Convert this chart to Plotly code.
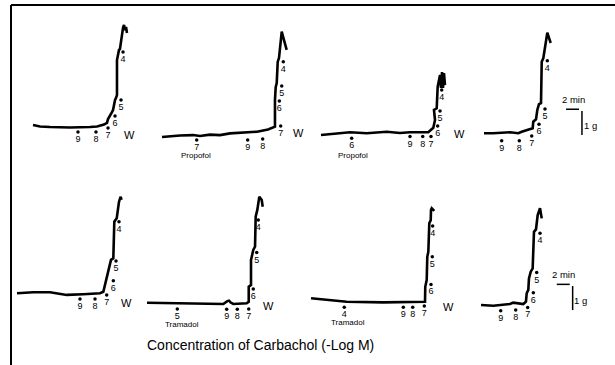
import plotly.graph_objects as go

# ---------------- data: isometric tension recordings (time in min, tension in g) ----------------
# Top row: control, Propofol 10^-7 M, Propofol 10^-6 M, control
p1_t = [0, 1.08, 2.62, 5.69, 8.77, 9.85, 10.92, 11.38, 11.54, 11.85, 12.15, 12.31, 12.46, 12.62, 12.77, 12.92, 12.92, 13.08, 13.23, 13.38, 13.54, 13.69, 13.85, 14.0, 14.15, 14.31, 14.46]
p1_g = [0.08, 0.02, 0, -0.02, 0, 0.02, 0.10, 0.17, 0.33, 0.46, 0.62, 0.71, 0.96, 1.13, 1.21, 1.33, 2.79, 3.08, 3.21, 3.25, 3.63, 3.92, 4.13, 4.25, 4.04, 4.17, 3.92]
p1_dose_t = [6.92, 9.69, 11.54, 12.62, 13.54, 13.85]
p1_dose_g = [-0.21, -0.21, -0.04, 0.46, 1.13, 3.13]
p1_dose_lbl = ["9", "8", "7", "6", "5", "4"]

p2_t = [0, 1.23, 2.77, 4.77, 5.85, 7.38, 8.92, 10.46, 12.0, 14.62, 16.31, 17.08, 17.38, 17.38, 17.49, 17.65, 17.80, 18.0, 18.23, 18.42, 18.77, 19.18]
p2_g = [0, 0.04, 0.06, 0.08, 0.04, 0.10, 0.08, 0.15, 0.18, 0.22, 0.31, 0.38, 0.43, 1.54, 2.08, 2.25, 3.13, 3.29, 3.83, 4.39, 4.04, 3.63]
p2_dose_t = [5.34, 13.18, 15.49, 18.26, 18.05, 18.42, 18.66]
p2_dose_g = [-0.13, -0.13, -0.08, 0.46, 1.5, 2.13, 3.14]
p2_dose_lbl = ["7", "9", "8", "7", "6", "5", "4"]

p3_t = [0, 2.15, 4.46, 7.03, 10.11, 12.15, 13.69, 16.51, 16.88, 17.28, 17.54, 17.38, 17.8, 17.95, 18.31, 18.46, 18.62, 18.77, 18.92, 19.08, 18.92, 18.77]
p3_g = [-0.08, -0.02, 0.03, -0.01, 0.05, 0, 0.03, 0.03, 0.13, 0.22, 0.54, 0.96, 1.03, 1.93, 2.42, 1.88, 2.54, 1.88, 2.5, 2.0, 2.38, 2.1]
p3_dose_t = [4.72, 13.69, 15.65, 16.92, 17.95, 18.31, 18.57]
p3_dose_g = [-0.22, -0.15, -0.15, -0.15, 0.29, 0.92, 1.79]
p3_dose_lbl = ["6", "9", "8", "7", "6", "5", "4"]

p4_t = [0, 1.38, 4.0, 5.28, 5.8, 7.08, 7.49, 7.58, 8.0, 8.2, 8.46, 8.77, 8.88, 9.12, 9.54, 9.74, 10.0, 10.26]
p4_g = [-0.01, -0.01, 0.03, -0.01, 0.05, 0.15, 0.2, 0.47, 0.57, 0.96, 1.2, 1.24, 2.97, 3.11, 3.88, 4.18, 3.96, 3.75]
p4_dose_t = [2.72, 5.43, 7.34, 8.46, 9.38, 9.74]
p4_dose_g = [-0.32, -0.32, -0.13, 0.36, 1.0, 3.01]
p4_dose_lbl = ["9", "8", "7", "6", "5", "4"]

# Bottom row: control, Tramadol 10^-5 M, Tramadol 10^-4 M, control
p5_t = [0, 2.51, 5.08, 6.62, 7.65, 10.2, 12.77, 13.28, 13.69, 13.89, 14.2, 14.46, 14.82, 14.97, 15.34, 15.69, 15.95, 16.08]
p5_g = [-0.01, 0.03, 0.03, -0.05, -0.08, -0.05, -0.01, 0.05, 0.54, 0.64, 1.1, 1.38, 1.45, 2.97, 3.11, 3.8, 4.01, 3.88]
p5_dose_t = [9.69, 12.0, 13.8, 14.82, 15.23, 15.69]
p5_dose_g = [-0.25, -0.25, -0.08, 0.51, 1.33, 2.97]
p5_dose_lbl = ["9", "8", "7", "6", "5", "4"]

p6_t = [0, 3.54, 6.62, 11.74, 12.35, 12.62, 12.88, 13.28, 15.34, 15.65, 15.65, 16.0, 16.0, 16.35, 16.62, 16.72, 16.97, 17.28, 17.65, 17.8]
p6_g = [0.01, 0, -0.01, -0.04, 0.08, 0.1, 0.02, -0.04, -0.01, 0.05, 0.68, 0.75, 1.79, 2.21, 2.35, 3.6, 3.88, 4.43, 4.29, 4.01]
p6_dose_t = [4.66, 12.26, 13.89, 15.65, 16.35, 16.88, 17.12]
p6_dose_g = [-0.25, -0.26, -0.26, -0.25, 0.58, 2.1, 3.46]
p6_dose_lbl = ["5", "9", "8", "7", "6", "5", "4"]

p7_t = [0, 1.38, 5.49, 11.12, 15.74, 17.54, 17.58, 17.8, 17.89, 18.05, 18.2, 18.42, 18.46, 18.57, 18.97]
p7_g = [0.07, 0.04, -0.07, -0.1, -0.1, -0.07, 0.55, 0.83, 1.8, 2.01, 3.2, 3.33, 3.75, 3.82, 3.71]
p7_dose_t = [5.12, 14.2, 15.65, 17.43, 18.46, 18.66, 18.72]
p7_dose_g = [-0.3, -0.3, -0.3, -0.25, 0.65, 1.8, 3.08]
p7_dose_lbl = ["4", "9", "8", "7", "6", "5", "4"]

p8_t = [0, 1.89, 4.46, 4.97, 6.51, 6.92, 7.03, 7.28, 7.38, 7.65, 7.95, 8.15, 8.46, 8.72, 9.08, 9.34]
p8_g = [0, -0.03, 0.04, 0.1, 0.04, 0.14, 0.49, 0.63, 1.11, 1.39, 1.53, 3.05, 3.15, 3.75, 4.03, 3.61]
p8_dose_t = [3.03, 5.34, 7.18, 8.05, 8.57, 9.08]
p8_dose_g = [-0.24, -0.21, -0.1, 0.51, 1.35, 2.99]
p8_dose_lbl = ["9", "8", "7", "6", "5", "4"]

# wash-out marks "W" (panel index, t, g)
wash_panel = [1, 2, 3, 5, 6, 7]
wash_t = [14.92, 20.97, 21.38, 16.77, 18.66, 21.12]
wash_g = [-0.33, 0.17, -0.05, -0.4, -0.11, -0.3]

# drug labels (panel index, t, g, text)
drug_panel = [2, 3, 6, 7]
drug_t = [5.23, 4.92, 5.38, 5.74]
drug_g = [-0.75, -0.89, -0.85, -0.9]
drug_lbl = ["Propofol", "Propofol", "Tramadol", "Tramadol"]

# calibration bars (panel index, start t, start g) : 2 min and 1 g
scale_panel = [4, 8]
scale_t0 = [12.62, 11.65]
scale_g0 = [0.99, 0.86]
scale_min = 2
scale_gram = 1

xlabel = "Concentration of Carbachol (-Log M)"

# ---------------- layout (pixels) ----------------
W, H = 615, 365
PX_PER_MIN = 6.5
PX_PER_G = 24
panel_origin = [(33, 127), (162, 137), (321, 133), (484, 133),
                (17, 293), (147, 303), (311, 300), (481, 305)]

panels = [
    (p1_t, p1_g, p1_dose_t, p1_dose_g, p1_dose_lbl),
    (p2_t, p2_g, p2_dose_t, p2_dose_g, p2_dose_lbl),
    (p3_t, p3_g, p3_dose_t, p3_dose_g, p3_dose_lbl),
    (p4_t, p4_g, p4_dose_t, p4_dose_g, p4_dose_lbl),
    (p5_t, p5_g, p5_dose_t, p5_dose_g, p5_dose_lbl),
    (p6_t, p6_g, p6_dose_t, p6_dose_g, p6_dose_lbl),
    (p7_t, p7_g, p7_dose_t, p7_dose_g, p7_dose_lbl),
    (p8_t, p8_g, p8_dose_t, p8_dose_g, p8_dose_lbl),
]

FONT = "Liberation Sans, Arial, sans-serif"
fig = go.Figure()
layout = dict(
    width=W, height=H, margin=dict(l=0, r=0, t=0, b=0),
    paper_bgcolor="white", plot_bgcolor="white", showlegend=False,
    font=dict(family=FONT, color="black"),
)

def ax_names(i):
    return ("x" if i == 1 else f"x{i}"), ("y" if i == 1 else f"y{i}")

for i, (t, g, dt, dg, dl) in enumerate(panels, start=1):
    xr, yr = ax_names(i)
    x0, y0 = panel_origin[i - 1]
    xa = dict(range=[-x0 / PX_PER_MIN, (W - x0) / PX_PER_MIN], domain=[0, 1],
              visible=False, fixedrange=True, anchor=yr)
    ya = dict(range=[-(H - y0) / PX_PER_G, y0 / PX_PER_G], domain=[0, 1],
              visible=False, fixedrange=True, anchor=xr)
    if i > 1:
        xa["overlaying"] = "x"
        ya["overlaying"] = "y"
    layout["xaxis" if i == 1 else f"xaxis{i}"] = xa
    layout["yaxis" if i == 1 else f"yaxis{i}"] = ya
    fig.add_trace(go.Scatter(x=t, y=g, mode="lines", xaxis=xr, yaxis=yr,
                             line=dict(color="black", width=2.6), hoverinfo="skip"))
    fig.add_trace(go.Scatter(x=dt, y=dg, mode="markers+text", text=dl,
                             textposition="bottom center", xaxis=xr, yaxis=yr,
                             marker=dict(color="black", size=3.5),
                             textfont=dict(size=9, family=FONT, color="black"),
                             hoverinfo="skip"))

annotations = []
for p, t, g in zip(wash_panel, wash_t, wash_g):
    xr, yr = ax_names(p)
    annotations.append(dict(x=t, y=g, xref=xr, yref=yr, text="W", showarrow=False,
                            xanchor="center", yanchor="middle",
                            font=dict(size=11, family=FONT, color="black")))
for p, t, g, s in zip(drug_panel, drug_t, drug_g, drug_lbl):
    xr, yr = ax_names(p)
    annotations.append(dict(x=t, y=g - 0.03, xref=xr, yref=yr, text=s, showarrow=False,
                            xanchor="center", yanchor="middle",
                            font=dict(size=8, family=FONT, color="black")))

shapes = []
for p, t0, g0 in zip(scale_panel, scale_t0, scale_g0):
    xr, yr = ax_names(p)
    tv = t0 + scale_min + 0.45
    shapes.append(dict(type="line", xref=xr, yref=yr, x0=t0, x1=t0 + scale_min,
                       y0=g0, y1=g0, line=dict(color="black", width=1.5)))
    shapes.append(dict(type="line", xref=xr, yref=yr, x0=tv, x1=tv,
                       y0=g0 - 0.07, y1=g0 - 0.07 - scale_gram, line=dict(color="black", width=1.5)))
    annotations.append(dict(x=t0 + scale_min / 2 + 0.1, y=g0 + 0.42, xref=xr, yref=yr,
                            text=f"{scale_min} min", showarrow=False,
                            xanchor="center", yanchor="middle",
                            font=dict(size=9.5, family=FONT, color="black")))
    annotations.append(dict(x=tv + 1.25, y=g0 - 0.07 - scale_gram / 2 - 0.1, xref=xr, yref=yr,
                            text=f"{scale_gram} g", showarrow=False,
                            xanchor="center", yanchor="middle",
                            font=dict(size=9.5, family=FONT, color="black")))

# frame lines (top and left)
shapes.append(dict(type="line", xref="paper", yref="paper", x0=11 / W, x1=1,
                   y0=1 - 5 / H, y1=1 - 5 / H, line=dict(color="black", width=2)))
shapes.append(dict(type="line", xref="paper", yref="paper", x0=11 / W, x1=11 / W,
                   y0=1 - 5 / H, y1=0, line=dict(color="black", width=2)))

annotations.append(dict(x=260 / W, y=1 - 345 / H, xref="paper", yref="paper", text=xlabel,
                        xanchor="center", yanchor="middle", showarrow=False,
                        font=dict(size=14, family=FONT, color="black")))

layout["annotations"] = annotations
layout["shapes"] = shapes
fig.update_layout(**layout)
fig.write_html("out.html", config={"displayModeBar": False},
               post_script=("document.documentElement.style.overflow='hidden';"
                            "document.body.style.margin='0';document.body.style.overflow='hidden';"))
